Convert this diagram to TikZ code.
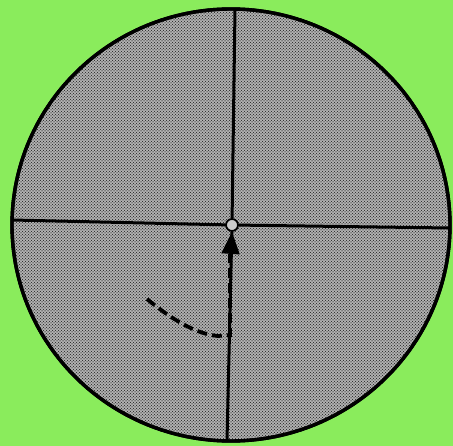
\documentclass[tikz,border=0pt]{standalone}
\usetikzlibrary{patterns,arrows.meta}
\definecolor{bggreen}{RGB}{138,236,92}
\begin{document}
\begin{tikzpicture}[x=1pt,y=-1pt,
  disk/.style={draw=black,line width=3.4pt,fill=white!70!black},
  hair/.style={draw=black,line width=3pt},
  route/.style={draw=black,line width=3.8pt,dash pattern=on 10pt off 5pt},
  hub/.style={circle,draw=black,line width=1.8pt,fill=white!80!black,minimum size=12pt,inner sep=0pt}]
\fill[bggreen] (0,0) rectangle (453,446);
\useasboundingbox (0,0) rectangle (453,446);
\path[disk] (231,225) ellipse [x radius=219, y radius=216];
\path[pattern=crosshatch dots,pattern color=black!90] (231,225) ellipse [x radius=218, y radius=215];
\path[pattern=dots,pattern color=black!70] (231,225) ellipse [x radius=218, y radius=215];
\draw[black,line width=3.4pt] (231,225) ellipse [x radius=219, y radius=216];
\coordinate (T) at (235,9);
\coordinate (B) at (227,441);
\coordinate (L) at (12,220);
\coordinate (R) at (450,228);
\node[hub] (C) at (232,225) {};
\draw[hair] (T) -- (C);
\draw[hair] (C) -- (B);
\draw[hair] (L) -- (C);
\draw[hair] (C) -- (R);
\coordinate (S) at (147,299);
\coordinate (K) at (230,335);
\draw[route] (S) .. controls (170,318) and (195,334) .. (218,336) -- (K) -- (230,254);
\draw[black,line width=2pt,-{Triangle[width=18pt,length=22pt]}] (230,262) -- (C.south);
\end{tikzpicture}
\end{document}
